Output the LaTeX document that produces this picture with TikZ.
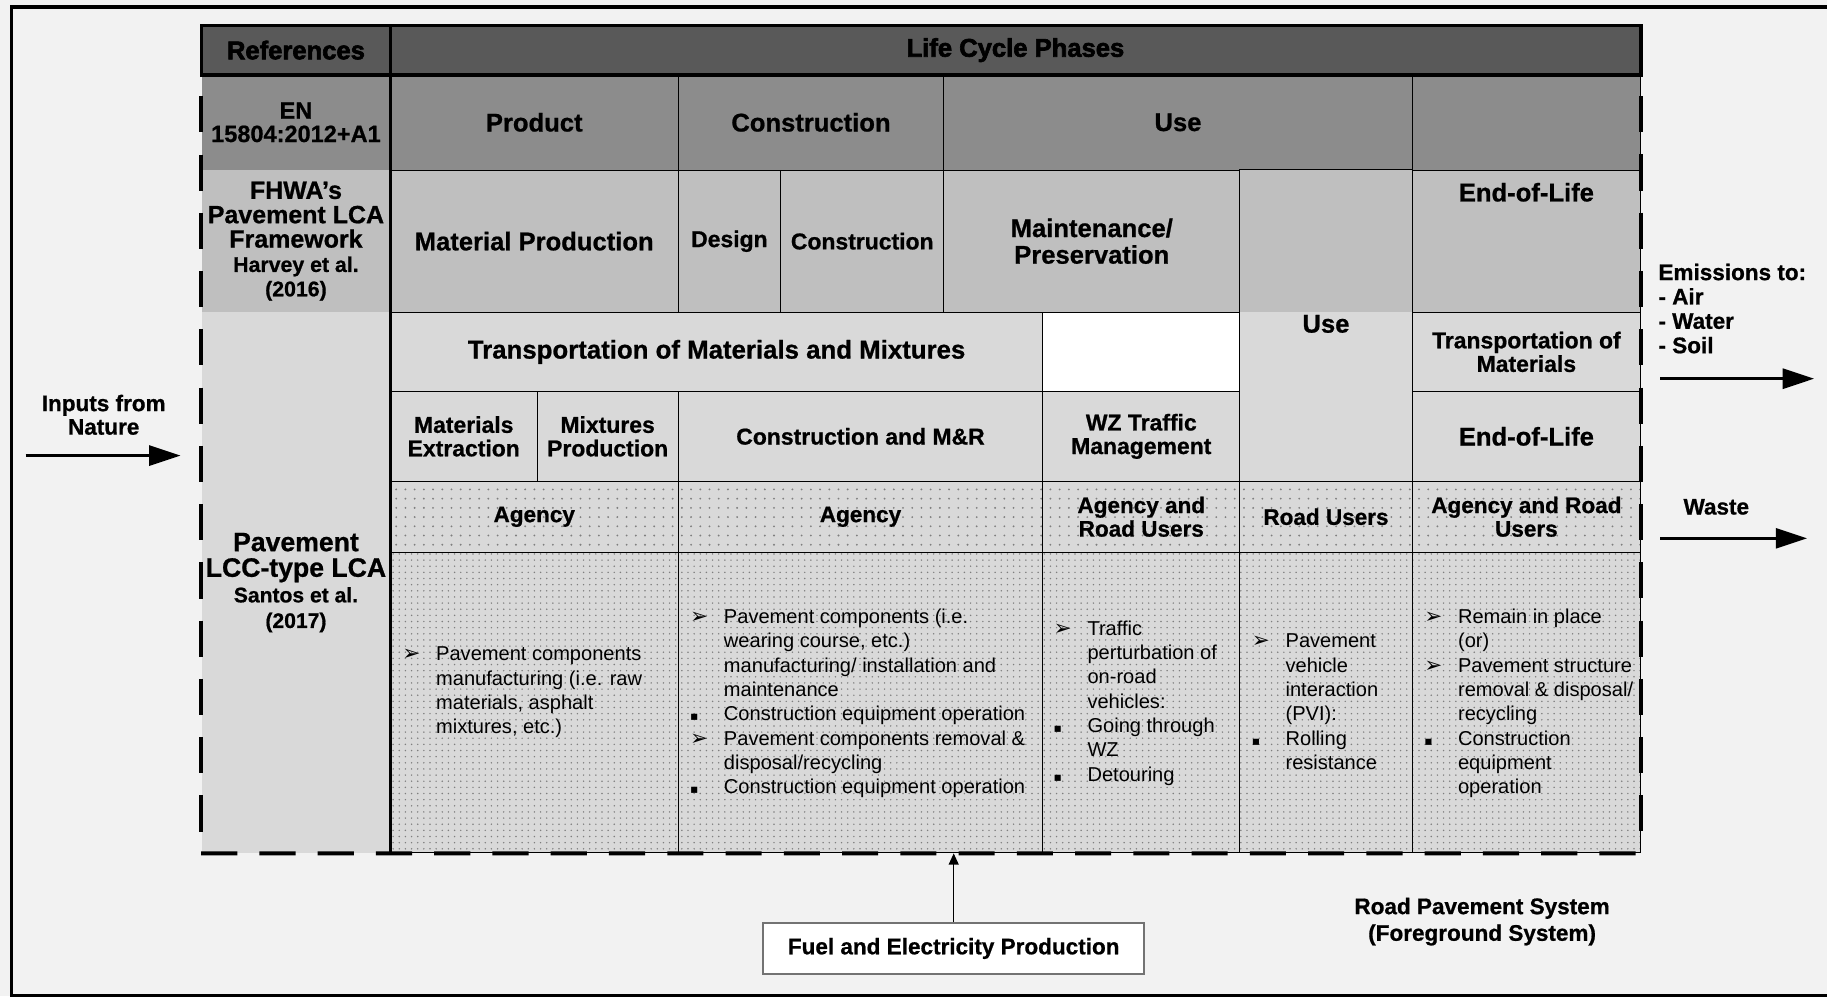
\documentclass[tikz,border=0pt]{standalone}
\usepackage{fontspec}
\setmainfont{Liberation Sans}
\newfontfamily\blackfont{Liberation Sans Bold}[FakeBold=2.5]
\newfontfamily\headfont{Liberation Sans Bold}[FakeBold=0.8]
\newfontfamily\symfont{DejaVu Sans}
\usetikzlibrary{arrows.meta, positioning, patterns.meta, calc}

\definecolor{hdrgray}{HTML}{595959}
\definecolor{engray}{HTML}{8C8C8C}
\definecolor{fhgray}{HTML}{BFBFBF}
\definecolor{lcgray}{HTML}{D9D9D9}
\definecolor{bggray}{HTML}{F2F2F2}
\definecolor{dotgray}{HTML}{7F7F7F}

\newcommand{\hdrfont}{\blackfont\fontsize{12.5}{13}\selectfont}
\newcommand{\arw}{{\symfont\fontsize{10.5}{8}\selectfont ➢}}
\newcommand{\sqb}{{\symfont\fontsize{6}{6}\selectfont ▪}}
\newcommand{\itemlist}[1]{\begin{tabular}[t]{@{}p{5.8mm}@{}l@{}}#1\end{tabular}}

\tikzset{
  span/.style 2 args={minimum width=#1*0.2mm, minimum height=#2*0.2mm},
  cell/.style={draw=black, line width=0.5pt, inner sep=0pt, align=center},
  refcell/.style={inner sep=0pt, align=center},
  bigtxt/.style={font=\headfont\fontsize{12.5}{13}\selectfont},
  midtxt/.style={font=\headfont\fontsize{11.2}{11.5}\selectfont},
  smalltxt/.style={font=\headfont\fontsize{11}{11.5}\selectfont},
  bodytxt/.style={font=\fontsize{9.8}{11.9}\selectfont, anchor=base west, inner sep=0pt},
  sparsedots/.style={preaction={fill=lcgray}, pattern={Dots[distance=4.5pt, radius=0.5pt]}, pattern color=dotgray},
  densedots/.style={preaction={fill=lcgray}, pattern={Dots[distance=3pt, radius=0.4pt]}, pattern color=dotgray},
  flow/.style={line width=1.7pt, -{Triangle[length=5.4mm, width=3.4mm]}},
  dashedframe/.style={line width=2pt, dash pattern=on 6.2mm off 3.8mm},
}

\begin{document}
\begin{tikzpicture}[x=0.2mm, y=-0.2mm]
  % background and outer frame
  \useasboundingbox (0,0) rectangle (1568,855);
  \fill[bggray] (0,0) rectangle (1568,855);
  \draw[line width=1.5pt] (1580,6) -- (10,6) -- (10,854) -- (1580,854);

  % References column
  \node[refcell, fill=hdrgray, span={162}{42}, font=\hdrfont] (refs) at (254,43) {References};
  \node[refcell, fill=engray, span={162}{82}, font=\headfont\fontsize{11.5}{11.4}\selectfont] (en) at (254,105) {EN\\15804:2012+A1};
  \node[refcell, fill=fhgray, span={162}{122}, font=\headfont\fontsize{12.2}{11.9}\selectfont] (fhwa) at (254,207) {FHWA’s\\Pavement LCA\\Framework\\{\fontsize{10.4}{11.9}\selectfont Harvey et al.}\\{\fontsize{10.4}{11.9}\selectfont (2016)}};
  \node[refcell, fill=lcgray, span={162}{464}, font=\headfont\fontsize{13}{12.5}\selectfont] (lcc) at (254,500) {Pavement\\LCC-type LCA\\{\fontsize{10.3}{12.5}\selectfont Santos et al.}\\{\fontsize{10.3}{12.5}\selectfont (2017)}};

  % Life cycle phases header
  \node[refcell, fill=hdrgray, span={1073}{42}, font=\hdrfont] (lcp) at (871.5,43) {Life Cycle Phases};

  % EN 15804 row
  \node[cell, fill=engray, span={247}{82}, bigtxt] (product) at (458.5,105) {Product};
  \node[cell, fill=engray, span={228}{82}, bigtxt] (constr) at (696,105) {Construction};
  \node[cell, fill=engray, span={402}{82}, bigtxt] (use) at (1011,105) {Use};
  \node[cell, fill=engray, span={196}{82}] (eol) at (1310,105) {};

  % FHWA row
  \node[cell, fill=fhgray, span={247}{122}, bigtxt] (matprod) at (458.5,207) {Material Production};
  \node[cell, fill=fhgray, span={88}{122}, midtxt] (design) at (626,207) {Design};
  \node[cell, fill=fhgray, span={140}{122}, midtxt] (fhconstr) at (740,207) {Construction};
  \node[cell, fill=fhgray, span={254}{122}, bigtxt] (maint) at (937,207) {Maintenance/\\Preservation};
  \node[refcell, fill=fhgray, span={148}{122}] (fhuse) at (1138,207) {};
  \node[cell, fill=fhgray, span={196}{122}] (fheol) at (1310,207) {};
  \node[bigtxt] (fheoltxt) at (1310,165) {End-of-Life};

  % LCC-type LCA rows
  \node[cell, fill=lcgray, span={560}{68}, font=\headfont\fontsize{12.6}{13}\selectfont] (transp) at (615,302) {Transportation of Materials and Mixtures};
  \node[cell, fill=white, span={169}{68}] (blank) at (979.5,302) {};
  \node[refcell, fill=lcgray, span={148}{145}] (usecell) at (1138,340.5) {};
  \draw[line width=0.5pt] (fhuse.north west) rectangle (usecell.south east);
  \node[bigtxt] (usetxt) at (1138,278) {Use};
  \node[cell, fill=lcgray, span={196}{68}, midtxt] (transpmat) at (1310,302) {Transportation of\\Materials};

  \node[cell, fill=lcgray, span={126}{77}, midtxt] (matext) at (398,374.5) {Materials\\Extraction};
  \node[cell, fill=lcgray, span={121}{77}, midtxt] (mixprod) at (521.5,374.5) {Mixtures\\Production};
  \node[cell, fill=lcgray, span={313}{77}, midtxt] (constmr) at (738.5,374.5) {Construction and M\&R};
  \node[cell, fill=lcgray, span={169}{77}, midtxt] (wz) at (979.5,374.5) {WZ Traffic\\Management};
  \node[cell, fill=lcgray, span={196}{77}, bigtxt] (eollcc) at (1310,374.5) {End-of-Life};

  % actors
  \node[cell, sparsedots, span={247}{61}, smalltxt] (ag1) at (458.5,443.5) {Agency};
  \node[cell, sparsedots, span={313}{61}, smalltxt] (ag2) at (738.5,443.5) {Agency};
  \node[cell, sparsedots, span={169}{61}, smalltxt] (agru1) at (979.5,443.5) {Agency and\\Road Users};
  \node[cell, sparsedots, span={148}{61}, smalltxt] (ru) at (1138,443.5) {Road Users};
  \node[cell, sparsedots, span={196}{61}, smalltxt] (agru2) at (1310,443.5) {Agency and Road\\Users};

  % activities
  \node[cell, densedots, span={247}{258}] (d1) at (458.5,603) {};
  \node[cell, densedots, span={313}{258}] (d2) at (738.5,603) {};
  \node[cell, densedots, span={169}{258}] (d3) at (979.5,603) {};
  \node[cell, densedots, span={148}{258}] (d4) at (1138,603) {};
  \node[cell, densedots, span={196}{258}] (d5) at (1310,603) {};

  \node[bodytxt] (act1) at (345,567) {\itemlist{\arw & Pavement components\\ & manufacturing (i.e. raw\\ & materials, asphalt\\ & mixtures, etc.)}};
  \node[bodytxt] (act2) at (592,535) {\itemlist{\arw & Pavement components (i.e.\\ & wearing course, etc.)\\ & manufacturing/ installation and\\ & maintenance\\ \sqb & Construction equipment operation\\ \arw & Pavement components removal \&\\ & disposal/recycling\\ \sqb & Construction equipment operation}};
  \node[bodytxt] (act3) at (904,545) {\itemlist{\arw & Traffic\\ & perturbation of\\ & on-road\\ & vehicles:\\ \sqb & Going through\\ & WZ\\ \sqb & Detouring}};
  \node[bodytxt] (act4) at (1074,556) {\itemlist{\arw & Pavement\\ & vehicle\\ & interaction\\ & (PVI):\\ \sqb & Rolling\\ & resistance}};
  \node[bodytxt] (act5) at (1222,535) {\itemlist{\arw & Remain in place\\ & (or)\\ \arw & Pavement structure\\ & removal \& disposal/\\ & recycling\\ \sqb & Construction\\ & equipment\\ & operation}};

  % thick frames
  \draw[line width=1.6pt] (refs.north west) rectangle (lcp.south east);
  \draw[line width=1.6pt] (refs.north east) -- (refs.north east |- lcc.south);
  \draw[dashedframe, dash phase=6.2mm] (en.north west) -- (lcc.south west);
  \draw[dashedframe] (lcc.south west) -- (d5.south east);
  \draw[dashedframe, dash phase=6.2mm] (eol.north east) -- (d5.south east);

  % flows in and out
  \node[smalltxt, align=center] (inputs) at (89,356) {Inputs from\\Nature};
  \coordinate (inA) at (22,391);
  \coordinate (inB) at (155,391);
  \draw[flow] (inA) -- (inB);

  \node[font=\headfont\fontsize{11}{11.9}\selectfont, align=left, anchor=north west, inner sep=0pt] (emis) at (1423,226) {Emissions to:\\- Air\\- Water\\- Soil};
  \coordinate (emA) at (1425,325);
  \coordinate (emB) at (1557,325);
  \draw[flow] (emA) -- (emB);

  \node[smalltxt] (waste) at (1473,435) {Waste};
  \coordinate (wsA) at (1425,462);
  \coordinate (wsB) at (1551,462);
  \draw[flow] (wsA) -- (wsB);

  % background system
  \node[draw=black!55, line width=0.8pt, fill=white, span={327}{44}, smalltxt] (fuel) at (818.5,814) {Fuel and Electricity Production};
  \draw[line width=0.5pt, -{Triangle[length=1.9mm, width=1.7mm]}] (fuel.north) -- (fuel.north |- d2.south);
  \node[align=center, font=\headfont\fontsize{11}{13}\selectfont] (rps) at (1272,791) {Road Pavement System\\(Foreground System)};
\end{tikzpicture}
\end{document}
